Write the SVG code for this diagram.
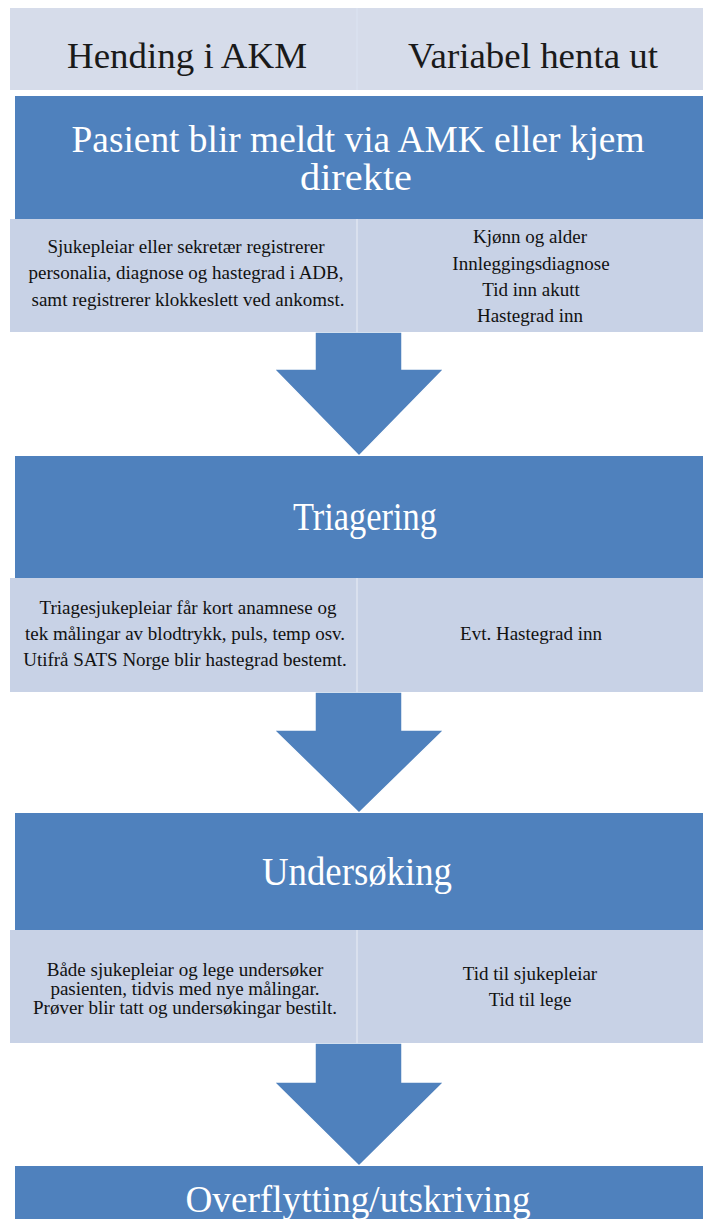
<svg xmlns="http://www.w3.org/2000/svg" width="703" height="1219" viewBox="0 0 703 1219">
<style>
.hdr{fill:#d6dcea}
.blue{fill:#4f81bd}
.light{fill:#c8d2e6}
.div{stroke:#d9e0ee;stroke-width:2}
.title{font-family:"Liberation Serif","Times New Roman",serif;fill:#ffffff;text-anchor:middle}
.htxt{font-family:"Liberation Serif","Times New Roman",serif;fill:#1a1a1a;text-anchor:middle;font-size:36px}
.txt{font-family:"Liberation Serif","Times New Roman",serif;fill:#111111;text-anchor:middle;font-size:19px}
.arrow{fill:#4f81bd;stroke:#ffffff;stroke-width:1.5}
</style>
<rect width="703" height="1219" fill="#ffffff"/>
<g id="header">
<rect class="hdr" x="10" y="8" width="693" height="82"/>
<line class="div" x1="357" y1="8" x2="357" y2="90"/>
<text class="htxt" x="187" y="68" textLength="240" lengthAdjust="spacingAndGlyphs">Hending i AKM</text>
<text class="htxt" x="533" y="68" textLength="250" lengthAdjust="spacingAndGlyphs">Variabel henta ut</text>
</g>
<g id="connectors">
<polygon class="arrow" points="315,332 402,332 402,369 444,369 359,456 274,369 315,369"/>
<polygon class="arrow" points="315,692 402,692 402,730 444,730 359,813 274,730 315,730"/>
<polygon class="arrow" points="315,1043 402,1043 402,1082 444,1082 359,1166 274,1082 315,1082"/>
</g>
<g id="step1">
<rect class="blue" x="15" y="96" width="688" height="123"/>
<text class="title" font-size="38" x="358" y="152" textLength="573" lengthAdjust="spacingAndGlyphs">Pasient blir meldt via AMK eller kjem</text>
<text class="title" font-size="38" x="356" y="190" textLength="112" lengthAdjust="spacingAndGlyphs">direkte</text>
</g>
<g id="detail1">
<rect class="light" x="10" y="219" width="693" height="113"/>
<line class="div" x1="357" y1="219" x2="357" y2="332"/>
<text class="txt" x="186" y="253">Sjukepleiar eller sekretær registrerer</text>
<text class="txt" x="186" y="279">personalia, diagnose og hastegrad i ADB,</text>
<text class="txt" x="188" y="306">samt registrerer klokkeslett ved ankomst.</text>
<text class="txt" x="530" y="243">Kjønn og alder</text>
<text class="txt" x="531" y="270">Innleggingsdiagnose</text>
<text class="txt" x="531" y="296">Tid inn akutt</text>
<text class="txt" x="530" y="322">Hastegrad inn</text>
</g>
<g id="step2">
<rect class="blue" x="15" y="456" width="688" height="122"/>
<text class="title" font-size="40" x="365" y="530" textLength="144" lengthAdjust="spacingAndGlyphs">Triagering</text>
</g>
<g id="detail2">
<rect class="light" x="10" y="578" width="693" height="114"/>
<line class="div" x1="357" y1="578" x2="357" y2="692"/>
<text class="txt" x="188" y="614">Triagesjukepleiar får kort anamnese og</text>
<text class="txt" x="185" y="640">tek målingar av blodtrykk, puls, temp osv.</text>
<text class="txt" x="185" y="666">Utifrå SATS Norge blir hastegrad bestemt.</text>
<text class="txt" x="531" y="640">Evt. Hastegrad inn</text>
</g>
<g id="step3">
<rect class="blue" x="15" y="813" width="688" height="117"/>
<text class="title" font-size="40" x="357" y="885" textLength="190" lengthAdjust="spacingAndGlyphs">Undersøking</text>
</g>
<g id="detail3">
<rect class="light" x="10" y="930" width="693" height="113"/>
<line class="div" x1="357" y1="930" x2="357" y2="1043"/>
<text class="txt" x="185" y="976">Både sjukepleiar og lege undersøker</text>
<text class="txt" x="185" y="995">pasienten, tidvis med nye målingar.</text>
<text class="txt" x="185" y="1014">Prøver blir tatt og undersøkingar bestilt.</text>
<text class="txt" x="530" y="980">Tid til sjukepleiar</text>
<text class="txt" x="530" y="1006">Tid til lege</text>
</g>
<g id="step4">
<rect class="blue" x="15" y="1166" width="688" height="53"/>
<text class="title" font-size="38" x="358" y="1212" textLength="345" lengthAdjust="spacingAndGlyphs">Overflytting/utskriving</text>
</g>
</svg>
